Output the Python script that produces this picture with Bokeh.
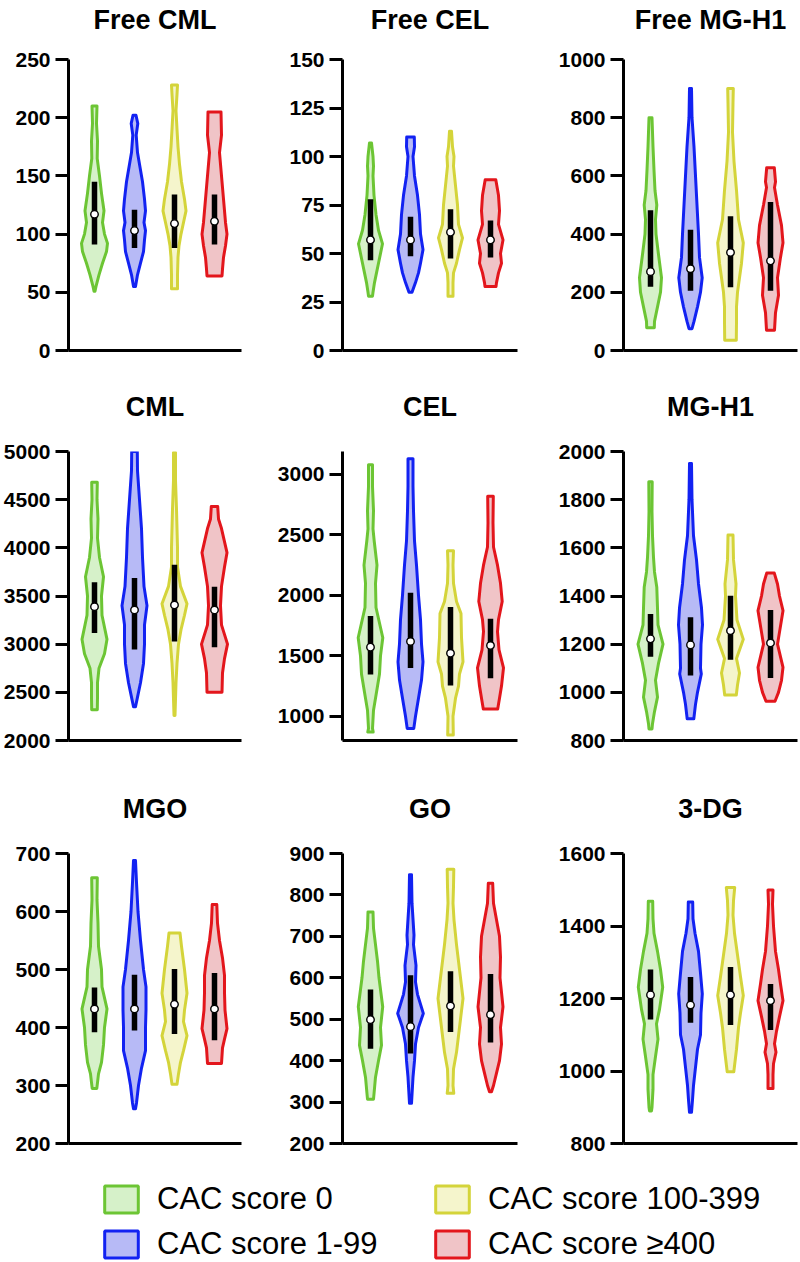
import numpy as np
from bokeh.plotting import figure
from bokeh.layouts import column, row
from bokeh.models import Range1d, FixedTicker, LinearAxis, ColumnDataSource, Legend, LegendItem
from bokeh.embed import file_html
from bokeh.resources import INLINE

# ---------------- data ----------------
GROUPS = ["CAC score 0", "CAC score 1-99", "CAC score 100-399", "CAC score \u2265400"]
TITLES = ["Free CML", "Free CEL", "Free MG-H1", "CML", "CEL", "MG-H1", "MGO", "GO", "3-DG"]

Y_RANGES = [(0, 250), (0, 150), (0, 1000), (2000, 5000), (800, 3190), (800, 2000),
            (200, 700), (200, 900), (800, 1600)]
Y_TICKS = [[0, 50, 100, 150, 200, 250],
           [0, 25, 50, 75, 100, 125, 150],
           [0, 200, 400, 600, 800, 1000],
           [2000, 2500, 3000, 3500, 4000, 4500, 5000],
           [1000, 1500, 2000, 2500, 3000],
           [800, 1000, 1200, 1400, 1600, 1800, 2000],
           [200, 300, 400, 500, 600, 700],
           [200, 300, 400, 500, 600, 700, 800, 900],
           [800, 1000, 1200, 1400, 1600]]

# violin outlines: value levels (ascending) and density half-widths (px)
FREE_CML_Y = [[51, 55, 65, 75, 85, 92, 100, 110, 120, 135, 150, 165, 180, 195, 210],
              [55, 65, 75, 85, 95, 103, 110, 120, 130, 145, 160, 170, 185, 195, 202],
              [53, 65, 80, 90, 100, 110, 120, 130, 145, 160, 175, 190, 206, 220, 228],
              [64, 70, 80, 90, 100, 110, 130, 150, 170, 185, 205]]
FREE_CML_W = [[0.5, 1.5, 4.5, 8, 12, 13, 10, 8, 9.5, 7, 5, 2.7, 3, 2, 2.5],
              [1, 3, 6, 9, 10, 11, 9.5, 11, 10, 8, 5, 3, 1.7, 3.3, 1.5],
              [3, 3, 3.5, 4.5, 6.5, 9, 11.5, 10, 7, 5, 3.5, 2.5, 1.5, 2.5, 3],
              [7.5, 8, 9, 11, 12.5, 11, 9, 7, 5, 7, 6.5]]
FREE_CML_MED = [117, 103, 109, 111]
FREE_CML_Q1 = [91, 88, 88, 91]
FREE_CML_Q3 = [145, 121, 134, 134]

FREE_CEL_Y = [[28, 30, 35, 40, 45, 50, 55, 62, 70, 80, 90, 95, 100, 107],
              [30, 35, 40, 45, 52, 60, 70, 80, 90, 100, 105, 110],
              [28, 35, 40, 45, 52, 58, 65, 75, 85, 95, 100, 105, 113],
              [33, 35, 40, 45, 50, 57, 65, 72, 80, 88]]
FREE_CEL_W = [[2, 2.5, 4, 6, 8, 10, 12, 8, 5.5, 3.5, 2.5, 3, 2.5, 1],
              [1.5, 5, 8, 10, 12.5, 10, 9, 7, 4, 2.5, 4, 3.8],
              [2.5, 2.5, 3, 6, 9, 12, 8, 7, 5, 3, 3.5, 2, 1],
              [5.5, 6, 8, 11, 10, 12.5, 8, 9, 8, 5.3]]
FREE_CEL_MED = [57, 57, 61, 57]
FREE_CEL_Q1 = [46.5, 48.6, 47.4, 48]
FREE_CEL_Q3 = [78, 69, 72.8, 67]

FREE_MGH1_Y = [[78, 100, 150, 200, 250, 330, 400, 450, 500, 550, 620, 700, 800],
               [75, 100, 150, 200, 250, 320, 400, 500, 600, 700, 800, 900],
               [35, 100, 150, 200, 250, 300, 370, 450, 550, 650, 750, 850, 900],
               [70, 130, 190, 250, 320, 370, 430, 500, 560, 580, 628]]
FREE_MGH1_W = [[3.8, 4, 7, 10, 11, 8, 5.5, 5, 6.3, 4.5, 3.5, 2.5, 1.5],
               [1.5, 3.5, 7, 10, 11.7, 9, 8, 6.5, 5, 3.5, 1.5, 1],
               [5.8, 6, 6, 7, 9, 11, 12.8, 8, 6, 3.5, 2, 2.5, 2.8],
               [4, 5, 8, 7, 10, 12.5, 11, 7, 4, 5, 3.8]]
FREE_MGH1_MED = [271, 281, 337, 308]
FREE_MGH1_Q1 = [219, 205, 217, 205]
FREE_MGH1_Q3 = [482, 415, 461, 510]

CML_Y = [[2320, 2450, 2600, 2750, 2900, 3050, 3300, 3500, 3700, 3900, 4100, 4300, 4500, 4680],
         [2350, 2450, 2600, 2800, 3000, 3200, 3400, 3600, 3900, 4200, 4500, 4800, 5000],
         [2260, 2600, 2800, 3000, 3150, 3300, 3420, 3600, 3800, 4000, 4400, 4700, 4990],
         [2500, 2700, 2850, 3000, 3200, 3400, 3600, 3800, 3950, 4200, 4300, 4430]]
CML_W = [[2.8, 3, 3, 4.5, 10, 12.5, 7.5, 7, 9, 5, 3, 3.5, 2.5, 2.8],
         [1, 3, 6, 9, 10, 10, 12.5, 9.5, 8, 7, 5, 3, 2.8],
         [0.5, 1.5, 2.5, 4, 6.5, 10, 12.5, 6, 3, 3, 2, 1, 1],
         [7.5, 8, 10, 13, 7, 6, 7, 10, 12.5, 7, 4, 3.2]]
CML_MED = [3389, 3355, 3407, 3355]
CML_Q1 = [3117, 2944, 3027, 2968]
CML_Q3 = [3642, 3687, 3825, 3597]

CEL_Y = [[870, 900, 1050, 1200, 1350, 1500, 1650, 1900, 2100, 2250, 2450, 2550, 2700, 2900, 3080],
         [900, 1000, 1150, 1300, 1450, 1600, 1800, 2000, 2250, 2450, 2700, 2900, 3130],
         [845, 1000, 1150, 1250, 1350, 1450, 1650, 1850, 1950, 2100, 2250, 2370],
         [1061, 1150, 1250, 1400, 1550, 1700, 1800, 1950, 2100, 2250, 2400, 2600, 2820]]
CEL_W = [[2.7, 2, 3, 6, 9, 10, 12.3, 5.5, 5, 6.5, 3.7, 2.5, 3, 2, 2],
         [3.3, 5, 8, 11, 12.5, 11, 10, 8, 6, 4, 3, 2.5, 2.5],
         [2.8, 2.5, 5, 8, 9, 12.5, 11, 10.5, 6, 3, 2.5, 3],
         [7.2, 9, 11, 13, 8.5, 7, 8, 11.7, 10, 7, 3, 2.5, 2.8]]
CEL_MED = [1572, 1619, 1522, 1586]
CEL_Q1 = [1345, 1400, 1254, 1315]
CEL_Q3 = [1829, 2022, 1903, 1807]

MGH1_Y = [[848, 870, 920, 980, 1050, 1120, 1200, 1280, 1350, 1436, 1500, 1560, 1650, 1750, 1874],
          [890, 950, 1000, 1076, 1100, 1200, 1280, 1350, 1450, 1550, 1650, 1800, 1950],
          [989, 1030, 1080, 1140, 1220, 1300, 1400, 1450, 1550, 1653],
          [963, 1000, 1050, 1104, 1200, 1250, 1339, 1400, 1450, 1495]]
MGH1_W = [[1.5, 2, 4, 7, 5, 8, 12.5, 7.5, 7, 6.3, 4, 3, 2, 1.5, 1.7],
          [3.3, 5, 7, 10.8, 10, 10.5, 12, 11, 8, 6, 3, 1.5, 1],
          [5.8, 7, 9, 6, 12.8, 6.5, 5, 5.5, 3, 2.5],
          [4.5, 8, 11, 12.5, 7, 9, 12.5, 9, 7, 3.8]]
MGH1_MED = [1222, 1197, 1256, 1205]
MGH1_Q1 = [1148, 1070, 1135, 1059]
MGH1_Q3 = [1325, 1312, 1401, 1342]

MGO_Y = [[295, 305, 320, 340, 370, 400, 432, 470, 500, 540, 580, 620, 658],
         [260, 270, 300, 330, 360, 400, 430, 470, 500, 550, 600, 650, 688],
         [302, 320, 340, 360, 386, 410, 430, 459, 500, 540, 563],
         [338, 365, 380, 398, 430, 460, 490, 520, 550, 580, 612]]
MGO_W = [[2.3, 3, 4, 7, 9, 10, 12.5, 7.5, 7, 4, 3.5, 2.5, 2.8],
         [1, 2, 4, 7, 11, 11, 11.5, 11.5, 9, 6, 3.5, 2, 1],
         [2.5, 4, 6, 9, 12.5, 9, 10, 12.5, 10, 7, 5.5],
         [7, 8, 10, 12.5, 10.5, 10, 10, 8, 5, 3, 2.3]]
MGO_MED = [432, 432, 440, 432]
MGO_Q1 = [392, 395, 389, 378]
MGO_Q3 = [469, 491, 501, 494]

GO_Y = [[307, 320, 360, 400, 437, 480, 530, 600, 640, 680, 720, 759],
        [297, 360, 400, 440, 480, 514, 560, 590, 630, 680, 703, 780, 849],
        [321, 340, 380, 420, 460, 500, 550, 620, 680, 740, 780, 820, 862],
        [325, 340, 370, 400, 440, 480, 530, 600, 650, 700, 740, 780, 828]]
GO_W = [[3, 3.5, 5, 8, 11, 10, 12.2, 8.5, 7, 5, 3, 2.5],
        [1, 2.5, 4, 5, 8, 12.8, 7, 5, 5.5, 3, 3.5, 1.5, 1],
        [3.3, 2.5, 3, 6, 8, 10, 12.5, 9, 6, 3.5, 2.5, 3, 3.3],
        [1, 3, 6, 9, 11, 10, 12.5, 9.5, 10, 9, 6, 3, 2.2]]
GO_MED = [499, 482, 532, 511]
GO_Q1 = [429, 417, 469, 444]
GO_Q3 = [572, 606, 616, 609]

DG3_Y = [[890, 900, 950, 990, 1040, 1088, 1130, 1170, 1231, 1280, 1330, 1380, 1420, 1468],
         [886, 920, 960, 1010, 1060, 1100, 1160, 1213, 1270, 1330, 1380, 1420, 1466],
         [998, 1060, 1120, 1160, 1208, 1260, 1320, 1380, 1430, 1470, 1506],
         [952, 990, 1020, 1052, 1075, 1110, 1150, 1194, 1240, 1280, 1330, 1400, 1460, 1499]]
DG3_W = [[1, 1.5, 2.5, 2.5, 5, 7.5, 6, 9, 12.2, 10, 7, 3.5, 2.5, 2.2],
         [1, 2, 3, 5, 7, 10, 10.5, 11.8, 10, 8, 4.5, 2.5, 2.2],
         [3.3, 6, 8, 10, 12.8, 10, 7, 4, 2.5, 3, 4.2],
         [2.5, 2.5, 3, 5.5, 4, 6, 9, 12.5, 10, 8, 5, 3, 2, 2.5]]
DG3_MED = [1210, 1182, 1210, 1194]
DG3_Q1 = [1142, 1133, 1127, 1113]
DG3_Q3 = [1280, 1259, 1287, 1240]

# ---------------- styles / layout ----------------
LINE_COLORS = ["#6cc534", "#1222f2", "#d4d43a", "#e3161c"]
FILL_COLORS = ["#d6f1c9", "#b7baf6", "#f5f5cc", "#f0c4c7"]
FONT = "Liberation Sans"
PX_PER_UNIT = 40.0

COL_W = [274, 281, 245]
COL_RIGHT = [33, 38, 3]
LEFT = 68
X_RANGES = [(-0.65, 3.675), (-0.7, 3.675), (-0.675, 3.675)]
ROW_H = [387, 402, 366]
ROW_TOP = [59, 64, 64]
ROW_BOTTOM = [37, 49, 12]
TITLE_STANDOFF = [25, 30, 30]
LEGEND_H = 107

PANELS = [
    (FREE_CML_Y, FREE_CML_W, FREE_CML_MED, FREE_CML_Q1, FREE_CML_Q3),
    (FREE_CEL_Y, FREE_CEL_W, FREE_CEL_MED, FREE_CEL_Q1, FREE_CEL_Q3),
    (FREE_MGH1_Y, FREE_MGH1_W, FREE_MGH1_MED, FREE_MGH1_Q1, FREE_MGH1_Q3),
    (CML_Y, CML_W, CML_MED, CML_Q1, CML_Q3),
    (CEL_Y, CEL_W, CEL_MED, CEL_Q1, CEL_Q3),
    (MGH1_Y, MGH1_W, MGH1_MED, MGH1_Q1, MGH1_Q3),
    (MGO_Y, MGO_W, MGO_MED, MGO_Q1, MGO_Q3),
    (GO_Y, GO_W, GO_MED, GO_Q1, GO_Q3),
    (DG3_Y, DG3_W, DG3_MED, DG3_Q1, DG3_Q3),
]


def make_panel(idx):
    r, c = divmod(idx, 3)
    ys_all, ws_all, med, q1, q3 = PANELS[idx]
    p = figure(width=COL_W[c], height=ROW_H[r],
               x_range=Range1d(*X_RANGES[c]), y_range=Range1d(*Y_RANGES[idx]),
               toolbar_location=None, output_backend="svg",
               min_border_left=LEFT, min_border_right=COL_RIGHT[c],
               min_border_top=ROW_TOP[r], min_border_bottom=ROW_BOTTOM[r])
    p.outline_line_color = None
    p.xgrid.visible = False
    p.ygrid.visible = False

    ya = p.yaxis[0]
    ya.ticker = FixedTicker(ticks=Y_TICKS[idx])
    ya.axis_line_width = 3
    ya.axis_line_color = "black"
    ya.major_tick_line_width = 3
    ya.major_tick_line_color = "black"
    ya.major_tick_out = 13
    ya.major_tick_in = 0
    ya.minor_tick_line_color = None
    ya.major_label_standoff = 5
    ya.major_label_text_font = FONT
    ya.major_label_text_font_style = "bold"
    ya.major_label_text_font_size = "21px"
    ya.major_label_text_color = "black"

    xa = p.xaxis[0]
    xa.ticker = FixedTicker(ticks=[])
    xa.axis_line_width = 3
    xa.axis_line_color = "black"
    xa.major_tick_out = 0
    xa.major_tick_in = 0
    xa.minor_tick_line_color = None
    xa.major_label_standoff = 0

    t = LinearAxis(ticker=FixedTicker(ticks=[]), axis_line_color=None,
                   major_tick_line_color=None, minor_tick_line_color=None,
                   major_tick_out=0, major_tick_in=0, minor_tick_out=0,
                   major_label_standoff=0,
                   axis_label=TITLES[idx], axis_label_standoff=TITLE_STANDOFF[r],
                   axis_label_text_font=FONT, axis_label_text_font_style="bold",
                   axis_label_text_font_size="27px", axis_label_text_color="black")
    p.add_layout(t, "above")

    xs_list, ys_list = [], []
    for g in range(4):
        yv, wv = ys_all[g], ws_all[g]
        right = [g + w / PX_PER_UNIT for w in wv]
        left = [g - w / PX_PER_UNIT for w in wv][::-1]
        xs_list.append(right + left)
        ys_list.append(list(yv) + list(yv)[::-1])
    src = ColumnDataSource(dict(xs=xs_list, ys=ys_list, fill=FILL_COLORS, line=LINE_COLORS))
    p.patches("xs", "ys", source=src, fill_color="fill", line_color="line",
              line_width=3, line_join="round")

    cx = [0, 1, 2, 3]
    p.segment(x0=cx, y0=q1, x1=cx, y1=q3, line_color="black", line_width=5.5)
    p.scatter(x=cx, y=med, size=7.5, marker="circle", fill_color="white",
              line_color="black", line_width=1.4)
    return p


figs = [make_panel(i) for i in range(9)]

# legend strip (proxy renderers hold no drawable geometry)
lf = figure(width=800, height=LEGEND_H, x_range=Range1d(0, 1), y_range=Range1d(0, 1),
            toolbar_location=None, output_backend="svg", min_border=0,
            x_axis_type=None, y_axis_type=None)
lf.outline_line_color = None
lf.xgrid.visible = False
lf.ygrid.visible = False
nan = np.array([np.nan])
dummies = [lf.quad(left=nan, right=nan, bottom=nan, top=nan, fill_color=FILL_COLORS[g],
                   line_color=LINE_COLORS[g], line_width=3) for g in range(4)]


def make_legend(indices, loc):
    return Legend(items=[LegendItem(label=GROUPS[g], renderers=[dummies[g]]) for g in indices],
                  location=loc, orientation="vertical",
                  glyph_width=42, glyph_height=34, label_standoff=15,
                  label_text_font=FONT, label_text_font_size="31px",
                  label_text_color="black", label_height=34, spacing=9,
                  padding=0, margin=0, border_line_color=None,
                  background_fill_alpha=0)


lf.add_layout(make_legend([0, 1], (100, 0)))
lf.add_layout(make_legend([2, 3], (431, 0)))

layout = column(row(*figs[0:3]), row(*figs[3:6]), row(*figs[6:9]), lf)

open("out.html", "w").write(file_html(layout, INLINE))
